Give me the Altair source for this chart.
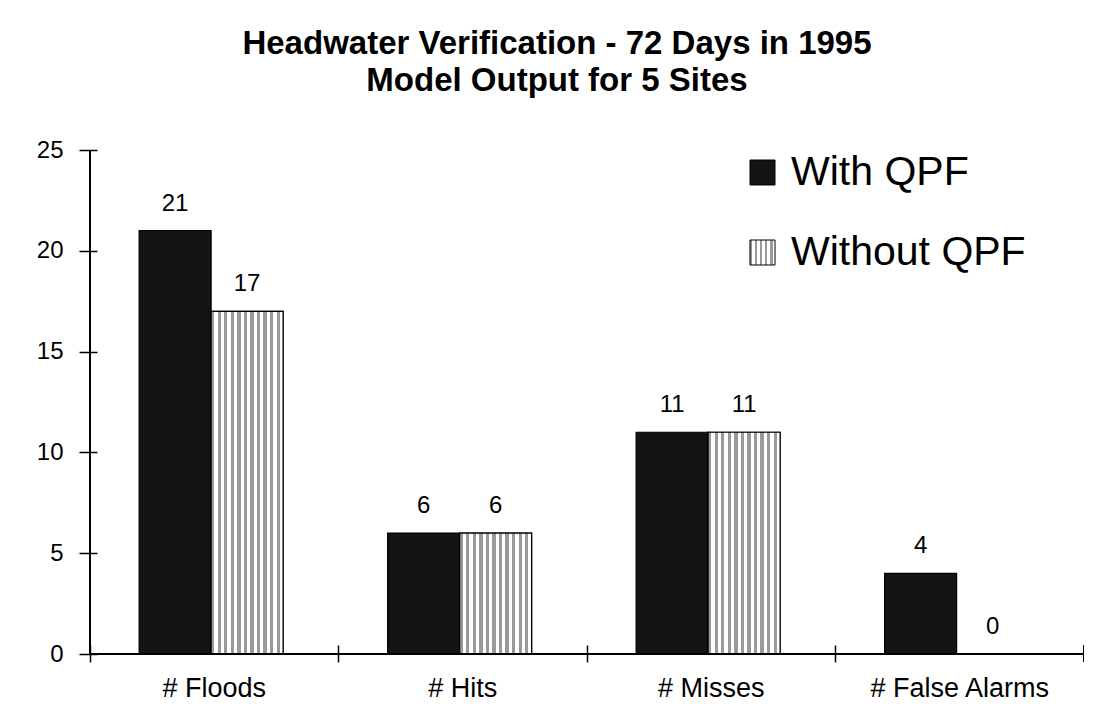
import altair as alt
import pandas as pd

categories = ["# Floods", "# Hits", "# Misses", "# False Alarms"]
series = ["With QPF", "Without QPF"]
with_qpf = [21, 6, 11, 4]
without_qpf = [17, 6, 11, 0]
y_ticks = [0, 5, 10, 15, 20, 25]

rows = []
for c, a, b in zip(categories, with_qpf, without_qpf):
    rows.append({"category": c, "series": series[0], "value": a})
    rows.append({"category": c, "series": series[1], "value": b})
df = pd.DataFrame(rows)

W, H = 994, 504
FONT = "Liberation Sans"
GRAY = "#9a9a9a"


def stripe_stops(n):
    out = []
    for i in range(n):
        out += [
            {"offset": i / n, "color": GRAY},
            {"offset": (i + 0.5) / n, "color": GRAY},
            {"offset": (i + 0.5) / n, "color": "#ffffff"},
            {"offset": (i + 1) / n, "color": "#ffffff"},
        ]
    return out


stripe = {"gradient": "linear", "x1": 0, "x2": 1, "y1": 0, "y2": 0, "stops": stripe_stops(11)}

# legend swatch gradient as an expression (object literal)
leg_stops = ", ".join(
    "{offset: %.4f, color: '%s'}" % (s["offset"], s["color"]) for s in stripe_stops(5)
)
leg_expr = "{gradient: 'linear', x1: 0, x2: 1, y1: 0, y2: 0, stops: [%s]}" % leg_stops

x_enc = alt.X(
    "category:N",
    sort=categories,
    title=None,
    scale=alt.Scale(paddingInner=0, paddingOuter=0),
    axis=alt.Axis(
        bandPosition=0,
        labelAngle=0,
        labelFont=FONT,
        labelFontSize=27,
        labelColor="black",
        labelPadding=13,
        labelLimit=300,
        domain=False,
        ticks=True,
        tickSize=17,
        tickColor="black",
        tickWidth=1.5,
        offset=-9,
        grid=False,
    ),
)
xoff_enc = alt.XOffset(
    "series:N",
    sort=series,
    scale=alt.Scale(domain=series, paddingOuter=0.726, paddingInner=0, align=0.47),
)
y_enc = alt.Y(
    "value:Q",
    title=None,
    scale=alt.Scale(domain=[0, 25], nice=False),
    axis=alt.Axis(
        values=y_ticks,
        labelFont=FONT,
        labelFontSize=24,
        labelColor="black",
        labelPadding=16,
        domain=False,
        ticks=True,
        tickSize=18,
        tickColor="black",
        tickWidth=1.5,
        offset=-7,
        grid=False,
    ),
)

base = alt.Chart(df).encode(x=x_enc, xOffset=xoff_enc, y=y_enc)

bars = base.mark_bar(stroke="black", strokeWidth=1.2).encode(
    color=alt.Color(
        "series:N",
        sort=series,
        scale=alt.Scale(domain=series, range=["#141414", alt.ExprRef(leg_expr)]),
        legend=alt.Legend(
            title=None,
            orient="none",
            legendX=652,
            legendY=2,
            symbolType="square",
            symbolSize=625,
            symbolStrokeColor="black",
            symbolStrokeWidth=1,
            labelFont=FONT,
            labelFontSize=41,
            labelColor="black",
            labelOffset=8,
            labelLimit=400,
            rowPadding=38,
            padding=0,
        ),
    )
)

stripes = (
    base.transform_filter(alt.datum.series == "Without QPF")
    .mark_bar(fill=stripe, stroke="black", strokeWidth=1.2)
)

labels = base.mark_text(
    baseline="alphabetic", dy=-20, font=FONT, fontSize=24, color="black"
).encode(text="value:Q")

y_domain = alt.Chart(df).mark_rule(color="black", strokeWidth=1.5).encode(
    x=alt.value(0), y=alt.value(0), y2=alt.value(H)
)
x_domain = alt.Chart(df).mark_rule(color="black", strokeWidth=1.5).encode(
    x=alt.value(0), x2=alt.value(W), y=alt.value(H)
)
end_tick = alt.Chart(df).mark_rule(color="black", strokeWidth=1.5).encode(
    x=alt.value(W), y=alt.value(H - 9), y2=alt.value(H + 8)
)

chart = (
    alt.layer(bars, stripes, labels, y_domain, x_domain, end_tick)
    .properties(
        width=W,
        height=H,
        background="white",
        autosize=alt.AutoSizeParams(type="none"),
        padding={"left": 82, "top": 142, "right": 0, "bottom": 60},
        title=alt.TitleParams(
            text=["Headwater Verification - 72 Days in 1995", "Model Output for 5 Sites"],
            font=FONT,
            fontSize=33,
            fontWeight="bold",
            color="black",
            anchor="middle",
            dx=-30,
            offset=40,
            lineHeight=37,
        ),
    )
    .configure_view(strokeWidth=0, stroke=None)
)

chart.save("out.html", embed_options={"renderer": "svg", "actions": False})
